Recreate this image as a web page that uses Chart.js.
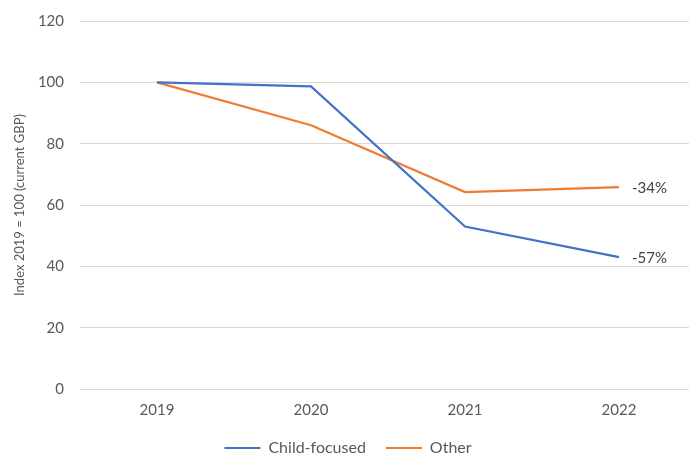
<!DOCTYPE html>
<html>
<head>
<meta charset="utf-8">
<script src="https://cdn.jsdelivr.net/npm/chart.js@4"></script>
<style>
  body { margin: 0; background: #fff; overflow: hidden; }
  #chart { display: block; margin-top: -4px; }
</style>
</head>
<body>
<canvas id="chart" width="700" height="470"></canvas>
<script>
const years = ['2019', '2020', '2021', '2022'];
const childFocused = [100, 98.7, 53, 43];
const other = [100, 86, 64.2, 65.8];
const changeLabels = ['-57%', '-34%'];
const yMin = 0, yMax = 120, yStep = 20;

const textColor = '#595959';
const fontFamily = 'Lato, "Open Sans", sans-serif';

// writes the % change next to the last point of each line
const endLabelPlugin = {
    id: 'endLabels',
    afterDatasetsDraw(chart) {
        const ctx = chart.ctx;
        ctx.save();
        ctx.font = '15px ' + fontFamily;
        ctx.fillStyle = '#404040';
        ctx.textAlign = 'left';
        ctx.textBaseline = 'middle';
        chart.data.datasets.forEach((ds, i) => {
            const meta = chart.getDatasetMeta(i);
            const pt = meta.data[meta.data.length - 1];
            ctx.fillText(changeLabels[i], pt.x + 13, pt.y + 1);
        });
        ctx.restore();
    }
};

new Chart(document.getElementById('chart'), {
    type: 'line',
    data: {
        labels: years,
        datasets: [{
            label: 'Child-focused',
            data: childFocused,
            borderColor: '#4472C4',
            backgroundColor: '#4472C4',
            borderWidth: 2.2,
            pointRadius: 0,
            pointStyle: 'line',
            tension: 0
        }, {
            label: 'Other',
            data: other,
            borderColor: '#ED7D31',
            backgroundColor: '#ED7D31',
            borderWidth: 2.2,
            pointRadius: 0,
            pointStyle: 'line',
            tension: 0
        }]
    },
    options: {
        responsive: false,
        animation: false,
        layout: { padding: { top: 0, left: 0, right: 4, bottom: 0 } },
        plugins: {
            tooltip: { enabled: false },
            legend: {
                position: 'bottom',
                labels: {
                    usePointStyle: true,
                    pointStyleWidth: 36,
                    boxWidth: 36,
                    padding: 20,
                    color: textColor,
                    font: { family: fontFamily, size: 16 }
                }
            }
        },
        scales: {
            x: {
                offset: true,
                grid: { display: false },
                border: { display: false },
                ticks: { color: textColor, font: { family: fontFamily, size: 15 }, padding: 4 },
                afterFit(scale) { scale.height = 31; }
            },
            y: {
                min: yMin,
                max: yMax,
                ticks: { stepSize: yStep, color: textColor, font: { family: fontFamily, size: 15 }, padding: 16 },
                grid: { color: '#d9d9d9', lineWidth: 1, drawTicks: false },
                border: { display: false },
                title: {
                    display: true,
                    text: 'Index 2019 = 100 (current GBP)',
                    color: textColor,
                    font: { family: fontFamily, size: 13 },
                    padding: { top: 12, bottom: 0 }
                },
                afterFit(scale) { scale.width = 80; }
            }
        }
    },
    plugins: [endLabelPlugin]
});
</script>
</body>
</html>
